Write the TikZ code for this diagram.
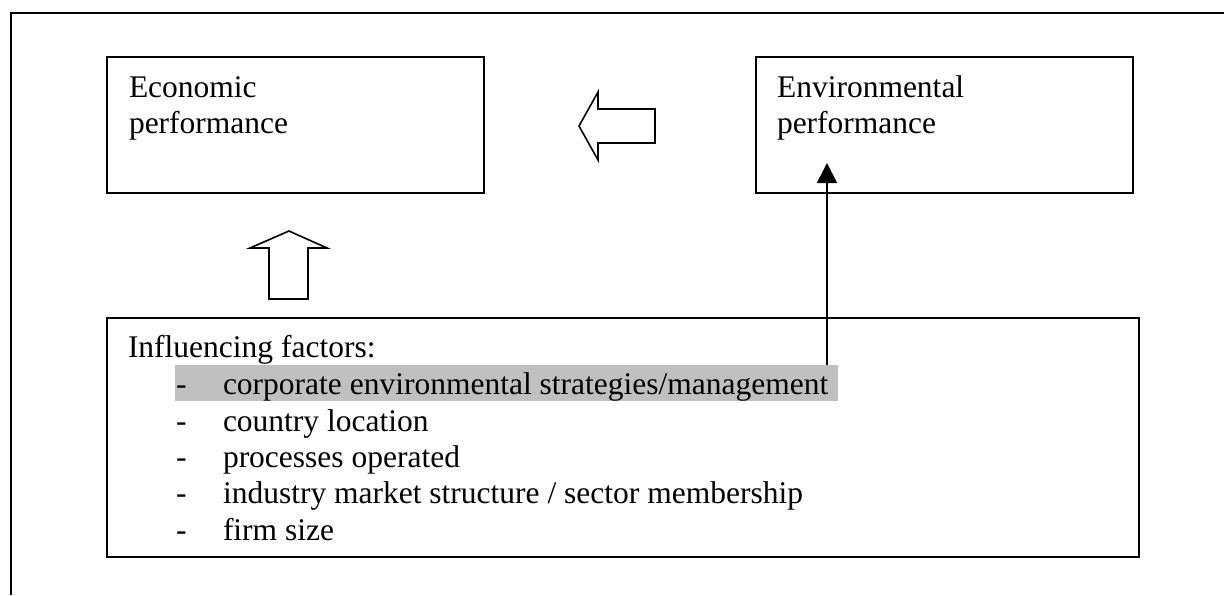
\documentclass[tikz,border=0pt]{standalone}
\usepackage{fontspec}
\setmainfont{Liberation Serif}
\usetikzlibrary{arrows.meta}
\definecolor{hlgray}{RGB}{192,192,192}
\begin{document}
\begin{tikzpicture}[x=1pt,y=-1pt,
  box/.style={draw, line width=1.8pt, inner sep=0pt, outer sep=0pt, anchor=north west},
  txt/.style={anchor=base west, inner sep=0pt, outer sep=0pt, font=\fontsize{31.5}{36}\selectfont},
  blockarrow/.style={draw, line width=1.6pt, fill=white, line join=miter},
  link/.style={line width=1.6pt, -{Triangle[width=20pt,length=20pt]}},
]
\useasboundingbox (0,0) rectangle (1224,595);

% frame
\draw[line width=2pt] (11,595) -- (11,13) -- (1224,13);

% boxes
\node[box, minimum width=377pt, minimum height=136pt] (econ) at (107,57) {};
\node[box, minimum width=377pt, minimum height=136pt] (env) at (756,57) {};
\node[box, minimum width=1032pt, minimum height=239pt] (factors) at (107,318) {};

% box texts
\node[txt] (econ1) at (129,97) {Economic};
\node[txt] (econ2) at (129,133) {performance};
\node[txt] (env1) at (777,97) {Environmental};
\node[txt] (env2) at (777,133) {performance};

% highlighted item
\fill[hlgray] (175,365) rectangle (838,401);

\node[txt] (head) at (128,357) {Influencing factors:};
\foreach \y [count=\i] in {394,431,467,503,540}
  \node[txt] (dash\i) at (176,\y) {-};
\node[txt] (item1) at (223,394) {corporate environmental strategies/management};
\node[txt] (item2) at (223,431) {country location};
\node[txt] (item3) at (223,467) {processes operated};
\node[txt] (item4) at (223,503) {industry market structure / sector membership};
\node[txt] (item5) at (223,540) {firm size};

% block arrows
\draw[blockarrow] (655,109) -- (598,109) -- (598,92) -- (579,126) -- (598,160)
  -- (598,143) -- (655,143) -- cycle;
\draw[blockarrow] (269,299) -- (269,248) -- (250,248) -- (289,231) -- (327,248)
  -- (308,248) -- (308,299) -- cycle;

% strategies -> environmental performance
\coordinate (src) at (827,365);
\coordinate (tip) at (827,163);
\draw[link] (src) -- (tip);
\end{tikzpicture}
\end{document}
